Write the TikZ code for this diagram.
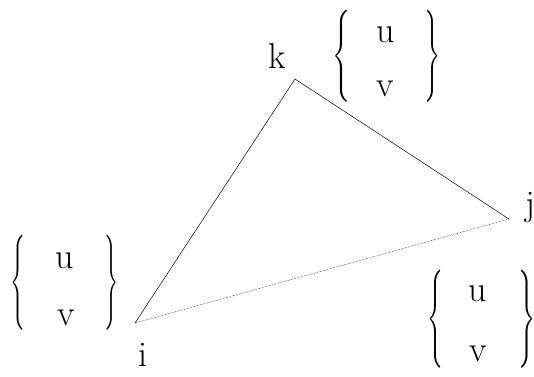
\documentclass[tikz,border=0pt]{standalone}
\usepackage{graphicx}
\newcommand\bracel[2]{\resizebox*{#1pt}{#2pt}{$\Bigg\{$}}
\newcommand\bracer[2]{\resizebox*{#1pt}{#2pt}{$\Bigg\}$}}
\begin{document}
\begin{tikzpicture}[x=1pt,y=-1pt,
  lbl/.style={font=\fontsize{36}{40}\selectfont, inner sep=0pt},
  brc/.style={inner sep=0pt},
  edge/.style={line width=0.5pt}]
\useasboundingbox (0,0) rectangle (534,376);
\coordinate (vk) at (295,79);
\coordinate (vi) at (135,323);
\coordinate (vj) at (509,219);
\draw[edge] (vi) -- (vk) -- (vj);
\draw[edge, densely dotted] (vi) -- (vj);
\node[lbl] (lk) at (277,56) {k};
\node[lbl] (lj) at (530,208) {j};
\node[lbl] (li) at (143,355) {i};
% top group
\node[brc] (tl) at (341,56) {\bracel{18}{92}};
\node[brc] (tr) at (432.5,56) {\bracer{16}{92}};
\node[lbl] (tu) at (386,35) {u};
\node[lbl] (tv) at (385,89) {v};
% left group
\node[brc] (ll) at (18.5,282.5) {\bracel{15}{95}};
\node[brc] (lr) at (111,282.5) {\bracer{14}{95}};
\node[lbl] (lu) at (65,261) {u};
\node[lbl] (lv) at (66,318) {v};
% bottom right group
\node[brc] (bl) at (435,319) {\bracel{16}{98}};
\node[brc] (br) at (526.5,319) {\bracer{17}{98}};
\node[lbl] (bu) at (478,294) {u};
\node[lbl] (bv) at (478,354) {v};
\end{tikzpicture}
\end{document}
